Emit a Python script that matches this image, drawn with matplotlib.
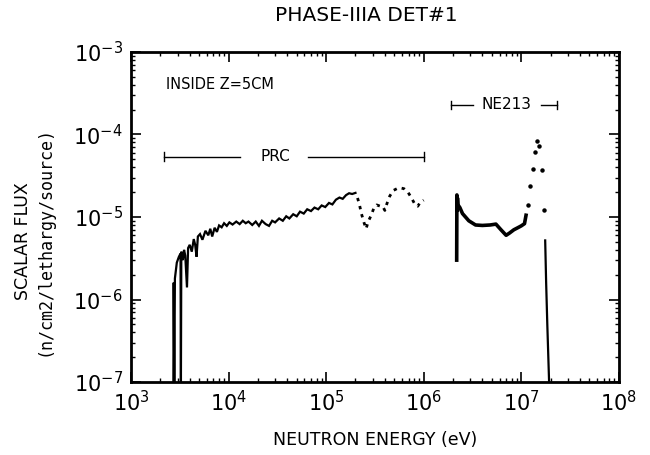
import matplotlib
matplotlib.use("Agg")
import matplotlib.pyplot as plt
from matplotlib.ticker import LogLocator, FixedLocator, FixedFormatter, NullFormatter

plt.rcParams['font.family'] = ['DejaVu Sans']
plt.rcParams['mathtext.default'] = 'regular'

# ---- data ----
# PRC spectrum, solid part
prc_E = [2.72e3, 2.74e3, 2.78e3, 2.82e3, 2.95e3, 3.1e3, 3.22e3, 3.25e3, 3.28e3, 3.4e3,
         3.5e3, 3.6e3, 3.75e3, 3.85e3, 4.0e3, 4.2e3, 4.4e3, 4.55e3, 4.7e3, 4.85e3,
         5.1e3, 5.4e3, 5.8e3, 6.2e3, 6.5e3, 6.8e3, 7.2e3, 7.6e3, 8.0e3, 8.5e3,
         9.0e3, 9.6e3, 1.02e4, 1.1e4, 1.2e4, 1.3e4, 1.4e4, 1.5e4, 1.6e4, 1.75e4,
         1.9e4, 2.05e4, 2.2e4, 2.4e4, 2.6e4, 2.8e4, 3.0e4, 3.3e4, 3.6e4, 3.9e4,
         4.2e4, 4.6e4, 5.0e4, 5.4e4, 5.9e4, 6.4e4, 7.0e4, 7.6e4, 8.3e4, 9.0e4,
         9.8e4, 1.07e5, 1.16e5, 1.26e5, 1.37e5, 1.48e5, 1.6e5, 1.72e5, 1.85e5, 2.0e5]
prc_F = [1.0e-7, 1.6e-6, 1.0e-7, 1.8e-6, 2.8e-6, 3.3e-6, 3.6e-6, 1.0e-7, 3.8e-6, 3.0e-6,
         4.0e-6, 3.4e-6, 1.4e-6, 4.2e-6, 4.6e-6, 3.8e-6, 5.4e-6, 4.6e-6, 3.3e-6, 5.8e-6,
         6.2e-6, 5.3e-6, 6.8e-6, 6.0e-6, 7.2e-6, 5.8e-6, 7.4e-6, 6.6e-6, 7.9e-6, 7.5e-6,
         8.4e-6, 7.8e-6, 8.6e-6, 8.1e-6, 8.8e-6, 8.2e-6, 9.0e-6, 8.4e-6, 8.8e-6, 8.0e-6,
         8.8e-6, 7.8e-6, 9.0e-6, 8.2e-6, 7.8e-6, 9.0e-6, 8.6e-6, 9.6e-6, 9.0e-6, 1.02e-5,
         9.6e-6, 1.08e-5, 1.02e-5, 1.16e-5, 1.1e-5, 1.24e-5, 1.18e-5, 1.3e-5, 1.24e-5, 1.38e-5,
         1.32e-5, 1.48e-5, 1.42e-5, 1.62e-5, 1.72e-5, 1.66e-5, 1.84e-5, 1.94e-5, 1.9e-5, 1.96e-5]

# PRC spectrum, dotted part
prcd_E = [2.1e5, 2.2e5, 2.3e5, 2.45e5, 2.57e5, 2.7e5, 2.9e5, 3.1e5, 3.3e5, 3.6e5,
          3.8e5, 4.0e5, 4.2e5, 4.5e5, 4.9e5, 5.3e5, 5.8e5, 6.3e5, 6.9e5, 7.5e5,
          8.2e5, 8.7e5, 9.2e5, 1.0e6]
prcd_F = [1.7e-5, 1.4e-5, 1.1e-5, 8.5e-6, 7.2e-6, 8.8e-6, 1.05e-5, 1.3e-5, 1.4e-5, 1.35e-5,
          1.35e-5, 1.2e-5, 1.45e-5, 1.8e-5, 2.1e-5, 2.2e-5, 2.25e-5, 2.2e-5, 2.0e-5, 1.7e-5,
          1.4e-5, 1.35e-5, 1.5e-5, 1.6e-5]

# NE213 spectrum, solid part
ne_E = [2.18e6, 2.19e6, 2.2e6, 2.22e6, 2.25e6, 2.35e6, 2.5e6, 2.9e6, 3.4e6, 4.0e6,
        4.8e6, 5.5e6, 6.2e6, 7.0e6, 7.6e6, 8.4e6, 9.2e6, 1.0e7, 1.08e7, 1.12e7]
ne_F = [3.0e-6, 1.85e-5, 1.2e-5, 1.7e-5, 1.4e-5, 1.3e-5, 1.1e-5, 9.0e-6, 8.0e-6, 7.9e-6,
        8.0e-6, 8.2e-6, 7.0e-6, 6.0e-6, 6.4e-6, 7.0e-6, 7.4e-6, 7.8e-6, 8.3e-6, 1.05e-5]

# NE213 14 MeV peak (dots)
pk_E = [1.17e7, 1.23e7, 1.32e7, 1.38e7, 1.45e7, 1.51e7, 1.62e7, 1.70e7]
pk_F = [1.4e-5, 2.35e-5, 3.8e-5, 6.2e-5, 8.3e-5, 7.2e-5, 3.7e-5, 1.23e-5]

# NE213 high-energy tail
tail_E = [1.76e7, 1.8e7, 1.85e7, 1.93e7]
tail_F = [5.2e-6, 1.6e-6, 5.0e-7, 1.0e-7]

# range bars
prc_range = [2.2e3, 1.0e6]
prc_bar_y = 5.4e-5
ne_range = [1.9e6, 2.3e7]
ne_bar_y = 2.3e-4

x_ticks = [1e3, 1e4, 1e5, 1e6, 1e7, 1e8]
x_labels = ['$10^{3}$', '$10^{4}$', '$10^{5}$', '$10^{6}$', '$10^{7}$', '$10^{8}$']
y_ticks = [1e-7, 1e-6, 1e-5, 1e-4, 1e-3]
y_labels = ['$10^{-7}$', '$10^{-6}$', '$10^{-5}$', '$10^{-4}$', '$10^{-3}$']

# ---- figure ----
fig = plt.figure(figsize=(6.5, 4.55), dpi=100)
ax = fig.add_axes([0.2015, 0.1604, 0.7505, 0.7254])
ax.set_xscale('log')
ax.set_yscale('log')
ax.set_xlim(1e3, 1e8)
ax.set_ylim(1e-7, 1e-3)

k = 'black'
ax.plot(prc_E, prc_F, color=k, lw=1.6, solid_joinstyle='miter')
ax.plot(prcd_E, prcd_F, color=k, lw=2.0, ls=(0, (1.2, 1.8)))
ax.plot(ne_E, ne_F, color=k, lw=2.6)
ax.plot(pk_E, pk_F, color=k, ls='none', marker='o', ms=2.2)
ax.plot(tail_E, tail_F, color=k, lw=1.6)

# range bars
ax.plot([prc_range[0], 1.3e4], [prc_bar_y, prc_bar_y], color=k, lw=1.0)
ax.plot([6.5e4, prc_range[1]], [prc_bar_y, prc_bar_y], color=k, lw=1.0)
for e in prc_range:
    ax.plot([e, e], [prc_bar_y / 1.12, prc_bar_y * 1.12], color=k, lw=1.0)
ax.text(3.0e4, prc_bar_y, 'PRC', ha='center', va='center', fontsize=11)

ax.plot([ne_range[0], 3.2e6], [ne_bar_y, ne_bar_y], color=k, lw=1.0)
ax.plot([1.6e7, ne_range[1]], [ne_bar_y, ne_bar_y], color=k, lw=1.0)
for e in ne_range:
    ax.plot([e, e], [ne_bar_y / 1.12, ne_bar_y * 1.12], color=k, lw=1.0)
ax.text(7.0e6, ne_bar_y, 'NE213', ha='center', va='center', fontsize=11)

ax.text(0.072, 0.9, 'INSIDE Z=5CM', transform=ax.transAxes, ha='left', va='center',
        fontsize=10.5)

# ticks
ax.xaxis.set_major_locator(FixedLocator(x_ticks))
ax.xaxis.set_major_formatter(FixedFormatter(x_labels))
ax.xaxis.set_minor_locator(LogLocator(base=10, subs=range(2, 10), numticks=20))
ax.xaxis.set_minor_formatter(NullFormatter())
ax.yaxis.set_major_locator(FixedLocator(y_ticks))
ax.yaxis.set_major_formatter(FixedFormatter(y_labels))
ax.yaxis.set_minor_locator(LogLocator(base=10, subs=range(2, 10), numticks=20))
ax.yaxis.set_minor_formatter(NullFormatter())
ax.tick_params(which='both', direction='in', top=True, right=True, color=k)
ax.tick_params(which='major', length=7, width=1.2, labelsize=15, pad=6)
ax.tick_params(which='minor', length=3, width=1.0)
for s in ax.spines.values():
    s.set_linewidth(2.0)

ax.set_xlabel('NEUTRON ENERGY (eV)', fontsize=12.5, labelpad=11)
fig.text(0.036, 0.47, 'SCALAR FLUX', rotation=90, ha='center', va='center', fontsize=12.5)
fig.text(0.068, 0.47, '(n/cm2/lethargy/source)', rotation=90, ha='center', va='center',
         fontsize=12, family='DejaVu Sans Mono')
fig.text(0.563, 0.965, 'PHASE-IIIA DET#1', ha='center', va='center', fontsize=14.5)

fig.savefig('out.png', dpi=100)
